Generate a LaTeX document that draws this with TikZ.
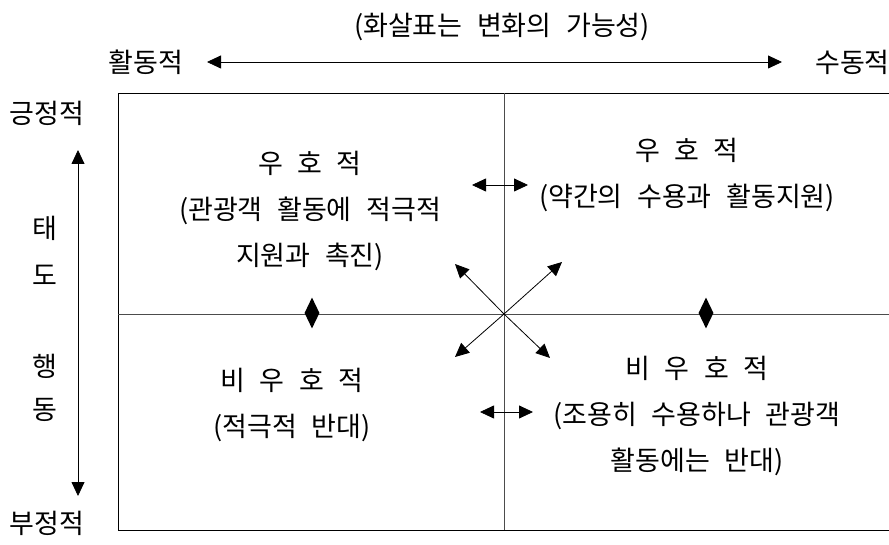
\documentclass[tikz,border=0pt]{standalone}
\usepackage{fontspec}
\setmainfont{Noto Sans CJK KR}[WordSpace=2.4]
\usetikzlibrary{arrows.meta,shapes.geometric,positioning}
\tikzset{QUAD style/.style={>={Triangle[length=14pt,width=13pt]},every node/.style={font=\fontsize{27}{46}\selectfont,inner sep=0pt}},
	lbl/.style={align=center},
	grid line/.style={draw=black!70,line width=0.8pt},
	mark diamond/.style={diamond,fill=black,minimum width=15pt,minimum height=31pt,inner sep=0pt,aspect=0.5},
	two way/.style={every edge/.style={draw,<->,line width=0.8pt}},
	one way/.style={every edge/.style={draw,->,line width=0.8pt}}}
\begin{document}
\begin{tikzpicture}[x=1pt,y=-1pt,QUAD style]
	\useasboundingbox (0,0) rectangle (889,545);
	
	% axes labels
	\node[lbl] (title) at (502,27) {(화살표는 변화의 가능성)};
	\node (act) at (146,62) {활동적};
	\node[anchor=west] (pas) at (815,62) {수동적};
	\coordinate (actE) at (207,62);
	\coordinate (pasE) at (782,62);
	
	\node (pos) at (47,113) {긍정적};
	\node (neg) at (47,523) {부정적};
	\coordinate (posE) at (78,150);
	\coordinate (negE) at (78,496);
	\node (t1) at (45,228) {태};
	\node (t2) at (45,275) {도};
	\node (t3) at (45,366) {행};
	\node (t4) at (45,410) {동};
	
	% frame
	\draw[line width=0.8pt] (889,93) -- (118,93) -- (118,530) -- (889,530);
	\coordinate (c) at (504,314);
	\path[grid line] (504,93) -- (504,530);
	\path[grid line] (118,314) -- (889,314);
	
	% quadrants
	\node[lbl] (ul) at (310,211) {우 호 적\\(관광객 활동에 적극적\\지원과 촉진)};
	\node[lbl] (ur) at (687,175) {우 호 적\\(약간의 수용과 활동지원)};
	\node[lbl] (ll) at (292,405) {비 우 호 적\\(적극적 반대)};
	\node[lbl] (lr) at (697,416) {비 우 호 적\\(조용히 수용하나 관광객\\활동에는 반대)};
	
	\node[mark diamond] (dl) at (312,313) {};
	\node[mark diamond] (dr) at (706,313) {};
	
	\coordinate (a1) at (472,185);
	\coordinate (a2) at (528,185);
	\coordinate (b1) at (480,412);
	\coordinate (b2) at (533,412);
	\coordinate (nw) at (455,264);
	\coordinate (ne) at (562,262);
	\coordinate (sw) at (455,357);
	\coordinate (se) at (550,358);
	
	\path[two way]
	(actE) edge (pasE)
	(posE) edge (negE)
	(a1) edge (a2)
	(b1) edge (b2)
	;
	\path[one way]
	(c) edge (nw)
	(c) edge (ne)
	(c) edge (sw)
	(c) edge (se)
	;
\end{tikzpicture}
\end{document}
